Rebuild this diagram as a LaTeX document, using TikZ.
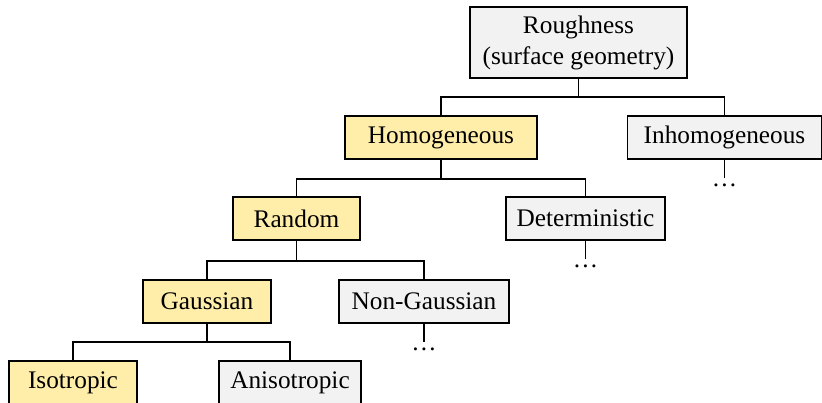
\documentclass[tikz,border=0pt]{standalone}
\usepackage{fontspec}
\setmainfont{Liberation Serif}
\usepackage{tikz}
\definecolor{boxgray}{RGB}{242,242,242}
\definecolor{boxyellow}{RGB}{255,238,170}
\tikzstyle{box}=[draw=black, line width=0.6pt, minimum height=21.5pt, inner sep=0pt, font=\fontsize{12.65}{15.5}\selectfont]
\tikzstyle{chosen}=[box, fill=boxyellow]
\tikzstyle{other}=[box, fill=boxgray]
\tikzstyle{more}=[inner xsep=0pt, inner ysep=2.5pt, anchor=north, font=\fontsize{12.65}{15.5}\selectfont]
\tikzstyle{link}=[line width=0.6pt]

\begin{document}
\begin{tikzpicture}[x=0.5pt, y=-0.5pt]
    \useasboundingbox (0,0) rectangle (822,402);

    %root
    \node (rough) at (578.5,42.5) [other, minimum width=108.5pt, minimum height=35.5pt, align=center] {Roughness\\(surface geometry)};

    %first split
    \node (hom) at (441,137.5) [chosen, minimum width=96pt] {Homogeneous};
    \node (inh) at (724.5,137.5) [other, minimum width=97pt] {Inhomogeneous};

    %second split
    \node (rand) at (296.5,218.5) [chosen, minimum width=63.5pt] {Random};
    \node (det) at (585.5,218.5) [other, minimum width=79.5pt] {Deterministic};

    %third split
    \node (gauss) at (207,301.5) [chosen, minimum width=64pt] {Gaussian};
    \node (ngauss) at (424,301.5) [other, minimum width=85pt] {Non-Gaussian};

    %fourth split
    \node (iso) at (73,382.5) [chosen, minimum width=64pt] {Isotropic};
    \node (aniso) at (290,382.5) [other, minimum width=71pt] {Anisotropic};

    %dots
    \node (inhmore) at (inh.south |- 0,178) [more] {…};
    \node (detmore) at (det.south |- 0,259) [more] {…};
    \node (ngmore) at (ngauss.south |- 0,342) [more] {…};

    %junctions
    \coordinate (j1) at (rough.south |- 0,97);
    \coordinate (j2) at (hom.south |- 0,179);
    \coordinate (j3) at (rand.south |- 0,261);
    \coordinate (j4) at (gauss.south |- 0,342);

    \draw[link] (rough.south) -- (j1) -| (hom.north);
    \draw[link] (j1) -| (inh.north);
    \draw[link] (hom.south) -- (j2) -| (rand.north);
    \draw[link] (j2) -| (det.north);
    \draw[link] (rand.south) -- (j3) -| (gauss.north);
    \draw[link] (j3) -| (ngauss.north);
    \draw[link] (gauss.south) -- (j4) -| (iso.north);
    \draw[link] (j4) -| (aniso.north);
    \foreach \a/\b in {inh/inhmore,det/detmore,ngauss/ngmore}{
    \draw[link] (\a.south) -- (\b.north);
    }

\end{tikzpicture}
\end{document}
